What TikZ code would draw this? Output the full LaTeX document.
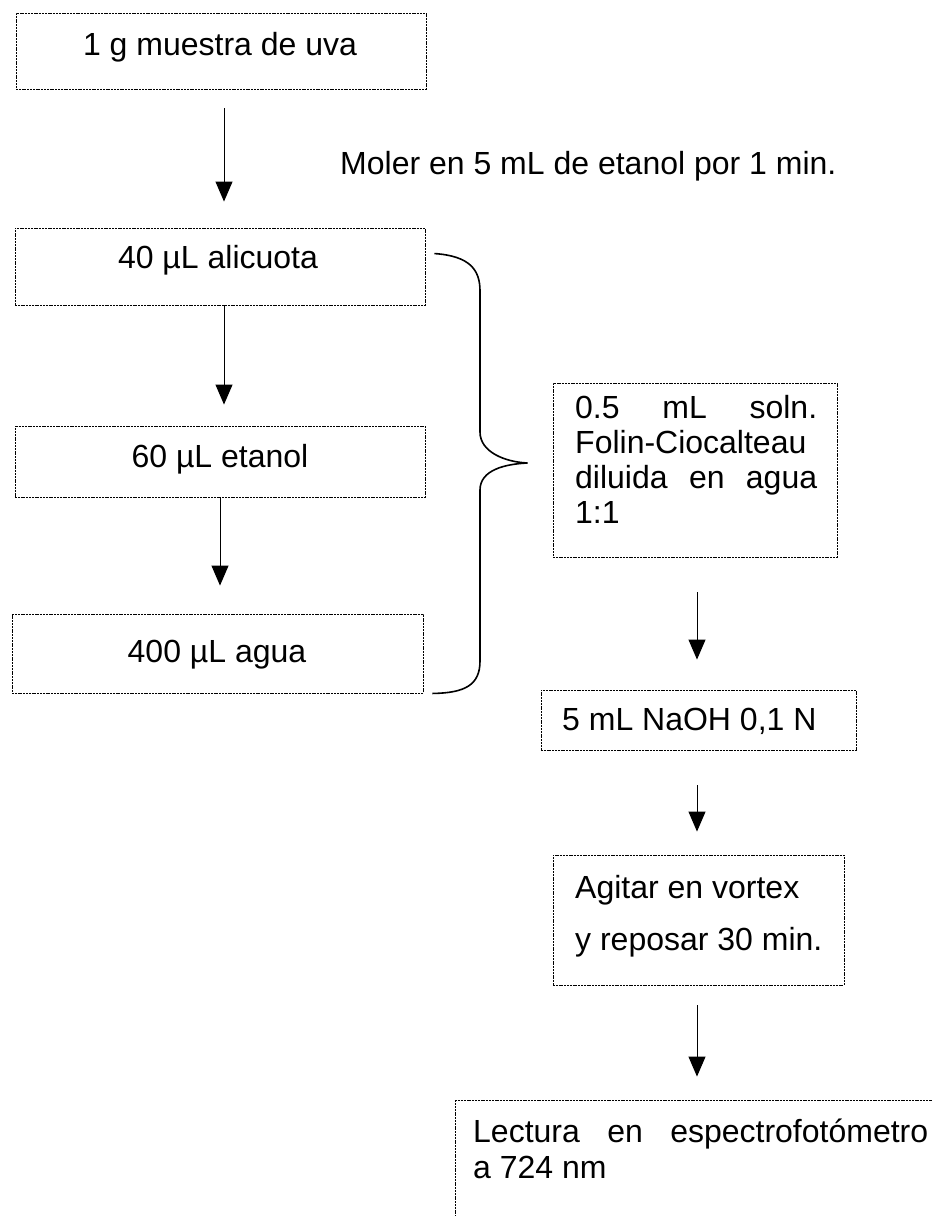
\documentclass[tikz,border=0pt]{standalone}
\usepackage{fontspec}
\setmainfont{Liberation Sans}
\usetikzlibrary{arrows.meta,calc}
\begin{document}
\begin{tikzpicture}[x=1pt,y=-1pt,
  box/.style={draw=black, line width=0.9pt, dash pattern=on 2pt off 0.8pt, rectangle, inner sep=0pt},
  txt/.style={inner sep=0pt, font=\fontsize{32}{36}\selectfont},
  arr/.style={draw=black, line width=1pt, -{Triangle[width=17pt,length=20pt]}},
  brace/.style={draw=black, line width=1.6pt}]
\useasboundingbox (0,0) rectangle (932,1216);
\clip (0,0) rectangle (932,1216);
% boxes
\node[box, minimum width=410pt, minimum height=76pt] (b1) at (221,51) {};
\node[box, minimum width=410pt, minimum height=77pt] (b2) at (220,266.5) {};
\node[box, minimum width=410pt, minimum height=71pt] (b3) at (220,461.5) {};
\node[box, minimum width=411pt, minimum height=79pt] (b4) at (217.5,653.5) {};
\node[box, minimum width=284pt, minimum height=174pt] (b5) at (695,470) {};
\node[box, minimum width=315pt, minimum height=60pt] (b6) at (698.5,720) {};
\node[box, minimum width=291pt, minimum height=130pt] (b7) at (698.5,920) {};
\node[box, minimum width=505pt, minimum height=160pt] (b8) at (707.5,1180) {};
% texts
\node[txt, anchor=base] (t1) at (220,55) {1 g muestra de uva};
\node[txt, anchor=base] (t2) at (218,268) {40 µL alicuota};
\node[txt, anchor=base] (t3) at (220,467) {60 µL etanol};
\node[txt, anchor=base] (t4) at (217,662) {400 µL agua};
\node[txt, anchor=base west] (lbl) at (340,174) {Moler en 5 mL de etanol por 1 min.};
\node[txt, anchor=north west, align=left, font=\fontsize{32}{35}\selectfont] (t5) at (575,392)
  {\rule{0pt}{26pt}\makebox[242pt][s]{0.5 mL soln.}\\Folin-Ciocalteau\\\makebox[242pt][s]{diluida en agua}\\1:1};
\node[txt, anchor=base west] (t6) at (562,730) {5 mL NaOH 0,1 N};
\node[txt, anchor=north west, align=left, font=\fontsize{32}{52}\selectfont] (t7) at (575,872)
  {\rule{0pt}{26pt}Agitar en vortex\\y reposar 30 min.};
\node[txt, anchor=north west, align=left, font=\fontsize{32}{36}\selectfont] (t8) at (473,1116)
  {\rule{0pt}{26pt}\makebox[455pt][s]{Lectura en espectrofotómetro}\\a 724 nm};
% arrow columns
\coordinate (xa) at (224,0);
\coordinate (xb) at (220,0);
\coordinate (xr) at (697,0);
\draw[arr, shorten <=19pt, shorten >=26pt] (b1.south -| xa) -- (b2.north -| xa);
\draw[arr, shorten >=21pt] (b2.south -| xa) -- (b3.north -| xa);
\draw[arr, shorten >=28pt] (b3.south -| xb) -- (b4.north -| xb);
\draw[arr, shorten <=35pt, shorten >=30pt] (b5.south -| xr) -- (b6.north -| xr);
\draw[arr, shorten <=35pt, shorten >=23pt] (b6.south -| xr) -- (b7.north -| xr);
\draw[arr, shorten <=20pt, shorten >=23pt] (b7.south -| xr) -- (b8.north -| xr);
% brace
\coordinate (bs) at ($(b2.north east)+(9,26)$);
\coordinate (be) at ($(b4.south east)+(9,0)$);
\coordinate (bt) at ($(b5.west)+(-25,-7)$);
\draw[brace] (bs) .. controls (470,256) and (480,270) .. (480,291)
  -- (480,432) .. controls (480,452) and (505,462) .. (bt)
  .. controls (505,464) and (480,470) .. (480,490)
  -- (480,661) .. controls (480,685) and (465,693) .. (be);
\end{tikzpicture}
\end{document}
